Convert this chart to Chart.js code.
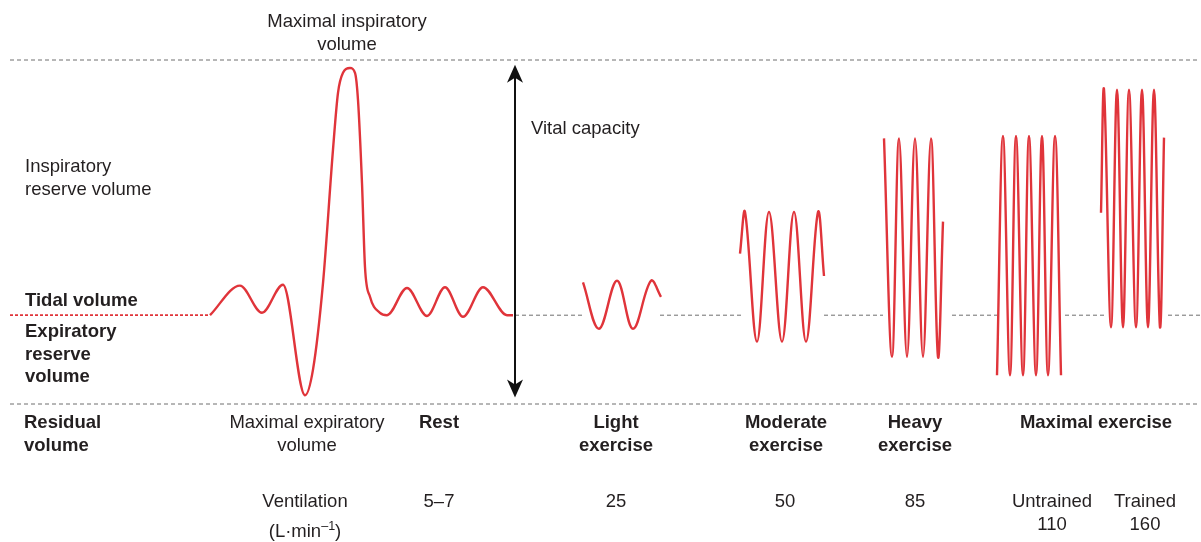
<!DOCTYPE html>
<html>
<head>
<meta charset="utf-8">
<script src="https://cdn.jsdelivr.net/npm/chart.js@4.4.1/dist/chart.umd.min.js"></script>
<style>
  html, body { margin: 0; padding: 0; background: #ffffff; }
  #wrap { width: 1201px; height: 542px; position: relative; }
  canvas { display: block; }
</style>
</head>
<body>
<div id="wrap"><canvas id="c" width="1201" height="542"></canvas></div>
<script>
// ---------------- DATA (time in arbitrary units, volume in litres) ----------------
const lungLevels = { residual: 1.2, endExpiratory: 2.31, totalCapacity: 5.5 };

// Rest breathing, maximal expiration / inspiration, rest breathing
const restTime   = [21.0, 24.0, 26.2, 28.3, 30.5, 31.3, 32.3, 33.3, 33.8, 34.3, 35.0, 35.5, 35.8, 36.2, 36.5, 37.0, 38.0, 38.7, 40.7, 42.7, 44.5, 46.3, 48.3, 50.7, 51.3];
const restVolume = [2.31, 2.68, 2.34, 2.69, 1.31, 1.63, 2.71, 4.38, 5.09, 5.34, 5.40, 5.34, 5.00, 3.96, 2.91, 2.54, 2.34, 2.31, 2.65, 2.30, 2.66, 2.29, 2.66, 2.31, 2.31];

const lightTime   = [58.3, 59.9, 61.7, 63.3, 65.1, 66.1];
const lightVolume = [2.72, 2.14, 2.74, 2.14, 2.74, 2.54];

const moderateTime   = [74.0, 74.5, 75.7, 76.9, 78.2, 79.4, 80.6, 81.8, 82.4];
const moderateVolume = [3.08, 3.60, 1.98, 3.60, 1.98, 3.60, 1.98, 3.60, 2.80];

const heavyTime   = [88.4, 89.2, 89.9, 90.7, 91.5, 92.3, 93.1, 93.8, 94.3];
const heavyVolume = [4.52, 1.79, 4.52, 1.79, 4.52, 1.79, 4.52, 1.79, 3.48];

const untrainedTime   = [99.7, 100.3, 101.0, 101.6, 102.3, 102.9, 103.6, 104.2, 104.8, 105.5, 106.1];
const untrainedVolume = [1.56, 4.55, 1.56, 4.55, 1.56, 4.55, 1.56, 4.55, 1.56, 4.55, 1.56];

const trainedTime   = [110.1, 110.4, 111.1, 111.7, 112.3, 112.9, 113.6, 114.2, 114.8, 115.4, 116.0, 116.4];
const trainedVolume = [3.59, 5.13, 2.16, 5.13, 2.16, 5.13, 2.16, 5.13, 2.16, 5.13, 2.16, 4.53];

// gray dashed end-expiratory segments (start, end times)
const baselineStarts = [51.5, 66.0, 82.4, 95.2, 106.5, 116.8];
const baselineEnds   = [58.2, 74.3, 88.3, 99.7, 110.4, 120.0];

// vital capacity arrow
const arrowTime = 51.5;
const arrowVolumes = [1.28, 5.44];

// text
const stageNames = ['Rest', 'Light\nexercise', 'Moderate\nexercise', 'Heavy\nexercise', 'Maximal exercise'];
const ventilationLabels = ['5–7', '25', '50', '85', 'Untrained\n110', 'Trained\n160'];

// ---------------- LAYOUT / STYLE ----------------
const RED = '#e0343a';
const GRAY = '#6e6e6e';
const INK = '#231f20';
const FONT = '"Liberation Sans", Arial, Helvetica, sans-serif';
const FS = 18.5;

const toPts = (xs, ys) => xs.map((x, i) => ({ x: x, y: ys[i] }));

const mainStyle = {
  borderColor: RED, borderWidth: 2.4, pointRadius: 0, fill: false,
  cubicInterpolationMode: 'monotone'
};
const waveStyle = {
  borderColor: RED, borderWidth: 2.4, pointRadius: 0, fill: false,
  cubicInterpolationMode: 'default', tension: 0.37
};

const datasets = [
  { data: [{x: 1.0, y: lungLevels.totalCapacity}, {x: 120.0, y: lungLevels.totalCapacity}],
    borderColor: GRAY, borderWidth: 1, borderDash: [4, 3], pointRadius: 0 },
  { data: [{x: 1.0, y: lungLevels.residual}, {x: 120.0, y: lungLevels.residual}],
    borderColor: GRAY, borderWidth: 1, borderDash: [4, 3], pointRadius: 0 },
  { data: [{x: 1.0, y: lungLevels.endExpiratory}, {x: 21.0, y: lungLevels.endExpiratory}],
    borderColor: RED, borderWidth: 1.8, borderDash: [3, 2], pointRadius: 0 },
  ...baselineStarts.map((s, i) => ({
    data: [{x: s, y: lungLevels.endExpiratory}, {x: baselineEnds[i], y: lungLevels.endExpiratory}],
    borderColor: GRAY, borderWidth: 1, borderDash: [4, 3], pointRadius: 0 })),
  Object.assign({ data: toPts(restTime, restVolume) }, mainStyle),
  Object.assign({ data: toPts(lightTime, lightVolume) }, waveStyle),
  Object.assign({ data: toPts(moderateTime, moderateVolume) }, waveStyle),
  Object.assign({ data: toPts(heavyTime, heavyVolume) }, waveStyle),
  Object.assign({ data: toPts(untrainedTime, untrainedVolume) }, waveStyle),
  Object.assign({ data: toPts(trainedTime, trainedVolume) }, waveStyle)
];

// text positions (pixel anchors)
const textItems = [
  { t: 'Maximal inspiratory', x: 347, y: 27, a: 'center' },
  { t: 'volume', x: 347, y: 50, a: 'center' },
  { t: 'Vital capacity', x: 531, y: 134, a: 'left' },
  { t: 'Inspiratory', x: 25, y: 172, a: 'left' },
  { t: 'reserve volume', x: 25, y: 195, a: 'left' },
  { t: 'Tidal volume', x: 25, y: 306, a: 'left', b: true },
  { t: 'Expiratory', x: 25, y: 337, a: 'left', b: true },
  { t: 'reserve', x: 25, y: 360, a: 'left', b: true },
  { t: 'volume', x: 25, y: 382, a: 'left', b: true },
  { t: 'Residual', x: 24, y: 428, a: 'left', b: true },
  { t: 'volume', x: 24, y: 451, a: 'left', b: true },
  { t: 'Maximal expiratory', x: 307, y: 428, a: 'center' },
  { t: 'volume', x: 307, y: 451, a: 'center' },
  { t: 'Ventilation', x: 305, y: 507, a: 'center' }
];
const stageX = [439, 616, 786, 915, 1096];
const ventX = [439, 616, 785, 915, 1052, 1145];

stageNames.forEach((s, i) => s.split('\n').forEach((line, k) =>
  textItems.push({ t: line, x: stageX[i], y: 428 + 23 * k, a: 'center', b: true })));
ventilationLabels.forEach((s, i) => s.split('\n').forEach((line, k) =>
  textItems.push({ t: line, x: ventX[i], y: 507 + 23 * k, a: 'center' })));

const annotationPlugin = {
  id: 'annot',
  afterDatasetsDraw(chart) {
    const ctx = chart.ctx;
    const xs = chart.scales.x, ys = chart.scales.y;
    ctx.save();
    // vital capacity arrow
    const ax = xs.getPixelForValue(arrowTime);
    const yb = ys.getPixelForValue(arrowVolumes[0]);
    const yt = ys.getPixelForValue(arrowVolumes[1]);
    ctx.strokeStyle = '#111'; ctx.fillStyle = '#111'; ctx.lineWidth = 2;
    ctx.beginPath(); ctx.moveTo(ax, yt + 10); ctx.lineTo(ax, yb - 10); ctx.stroke();
    const head = (tipY, dir) => {
      ctx.beginPath();
      ctx.moveTo(ax, tipY);
      ctx.lineTo(ax + 8, tipY + dir * 18);
      ctx.lineTo(ax, tipY + dir * 13);
      ctx.lineTo(ax - 8, tipY + dir * 18);
      ctx.closePath(); ctx.fill();
    };
    head(yt, 1); head(yb, -1);

    // text
    ctx.fillStyle = INK;
    ctx.textBaseline = 'alphabetic';
    textItems.forEach(it => {
      ctx.font = (it.b ? 'bold ' : '') + FS + 'px ' + FONT;
      ctx.textAlign = it.a;
      ctx.fillText(it.t, it.x, it.y);
    });
    // (L·min–1) with superscript
    ctx.font = FS + 'px ' + FONT;
    const p1 = '(L·min', p2 = '–1', p3 = ')';
    const w1 = ctx.measureText(p1).width, w3 = ctx.measureText(p3).width;
    ctx.font = (FS * 0.68) + 'px ' + FONT;
    const w2 = ctx.measureText(p2).width;
    let x0 = 305 - (w1 + w2 + w3) / 2;
    const by = 537;
    ctx.textAlign = 'left';
    ctx.font = FS + 'px ' + FONT;
    ctx.fillText(p1, x0, by);
    ctx.font = (FS * 0.68) + 'px ' + FONT;
    ctx.fillText(p2, x0 + w1, by - 7);
    ctx.font = FS + 'px ' + FONT;
    ctx.fillText(p3, x0 + w1 + w2, by);
    ctx.restore();
  }
};

new Chart(document.getElementById('c'), {
  type: 'line',
  data: { datasets: datasets },
  options: {
    responsive: false,
    animation: false,
    devicePixelRatio: 1,
    layout: { padding: 0 },
    plugins: { legend: { display: false }, tooltip: { enabled: false }, title: { display: false } },
    elements: { point: { radius: 0 } },
    scales: {
      x: { type: 'linear', min: 0, max: 120.1, display: false },
      y: { type: 'linear', min: -0.525, max: 6.25, display: false }
    }
  },
  plugins: [annotationPlugin]
});
</script>
</body>
</html>
